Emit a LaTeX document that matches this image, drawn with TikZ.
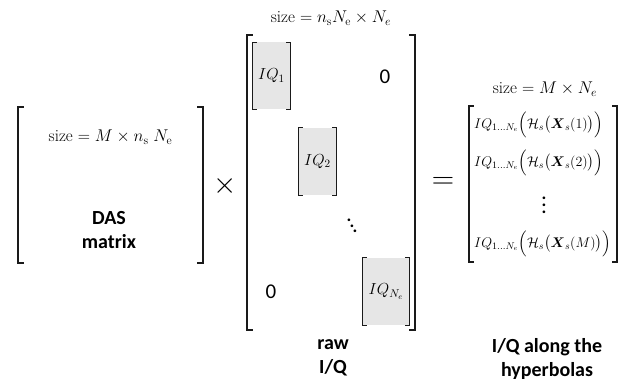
\RequirePackage{fix-cm}
\documentclass[tikz,border=0pt]{standalone}
\usepackage{amsmath}
\usepackage{fontspec}
\newfontfamily\calibfont{Carlito}
\usepackage{xcolor}
\definecolor{cellgray}{HTML}{E6E6E6}
\definecolor{brackink}{HTML}{1A1A1A}
\newcommand{\steepdots}{\raise11pt\hbox{.}\kern-1.9pt\raise5.5pt\hbox{.}\kern-1.9pt\hbox{.}}

\begin{document}
\begin{tikzpicture}[x=1pt,y=-1pt,
  sizelabel/.style={inner sep=0pt,font=\fontsize{17}{20}\selectfont},
  boldlabel/.style={inner sep=0pt,align=center,font=\calibfont\bfseries\fontsize{20}{24}\selectfont},
  zerolabel/.style={inner sep=0pt,font=\calibfont\fontsize{21}{24}\selectfont},
  dotlabel/.style={inner sep=0pt,align=center,font=\calibfont\bfseries\fontsize{18}{7}\selectfont},
  rowlabel/.style={inner sep=0pt,anchor=west,font=\fontsize{14}{16}\selectfont},
  frame/.style={inner sep=0pt,minimum width=#1},
  iqcell/.style={fill=cellgray,inner sep=0pt,minimum height=67pt,font=\fontsize{16}{18}\selectfont}
]
  \useasboundingbox (0,0) rectangle (628,379);

  \node[frame=185pt,minimum height=156pt] (das) at (110.5,185) {};
  \node[frame=168pt,minimum height=295pt] (raw) at (331,182.5) {};
  \node[frame=148pt,minimum height=156pt] (res) at (543,184) {};

  \node[iqcell,minimum width=37pt] (iq1) at (271.5,76) {$IQ_1$};
  \node[iqcell,minimum width=37pt] (iq2) at (317.5,161.5) {$IQ_2$};
  \node[iqcell,minimum width=46pt] (iqn) at (386,291.5) {$IQ_{N_e}$};

  \foreach \m/\w/\t in {das/1.8pt/6pt, raw/1.8pt/6pt, res/1.6pt/5pt,
                        iq1/1.1pt/4pt, iq2/1.1pt/4pt, iqn/1.1pt/4pt} {
    \draw[brackink,line width=\w] ([xshift=\t]\m.north west) -- (\m.north west)
      -- (\m.south west) -- ([xshift=\t]\m.south west);
    \draw[brackink,line width=\w] ([xshift=-\t]\m.north east) -- (\m.north east)
      -- (\m.south east) -- ([xshift=-\t]\m.south east);
  }

  \node[sizelabel] (dassize) at (110.5,137) {size $= M \times n_{\mathrm{s}}\;N_{\mathrm{e}}$};
  \node[boldlabel] (dasname) at (109,230) {DAS\\matrix};

  \node[inner sep=0pt,font=\fontsize{30}{30}\selectfont] (times) at (225,186) {$\times$};

  \node[sizelabel] (rawsize) at (331,18) {size $= n_{\mathrm{s}}N_{\mathrm{e}} \times N_e$};
  \node[zerolabel] (zerotop) at (385,77) {0};
  \node[zerolabel] (zerobot) at (271,292) {0};
  \node[dotlabel] (dots) at (352,226) {\steepdots};
  \node[boldlabel] (rawname) at (333,358) {raw\\I/Q};

  \node[inner sep=0pt,font=\fontsize{31}{31}\selectfont] (equals) at (443,183) {$=$};

  \node[sizelabel] (ressize) at (545,89) {size $= M \times N_e$};
  \node[rowlabel] (row1) at (474,125)
    {$IQ_{1\ldots N_e}\Bigl(\mathcal{H}_s\bigl(\boldsymbol{X}_s(1)\bigr)\Bigr)$};
  \node[rowlabel] (row2) at (474,163)
    {$IQ_{1\ldots N_e}\Bigl(\mathcal{H}_s\bigl(\boldsymbol{X}_s(2)\bigr)\Bigr)$};
  \node[dotlabel] (vdots) at (544,205) {.\\.\\.};
  \node[rowlabel] (rowm) at (474,244)
    {$IQ_{1\ldots N_e}\Bigl(\mathcal{H}_s\bigl(\boldsymbol{X}_s(M)\bigr)\Bigr)$};
  \node[boldlabel] (resname) at (547,359) {I/Q along the\\hyperbolas};
\end{tikzpicture}
\end{document}
